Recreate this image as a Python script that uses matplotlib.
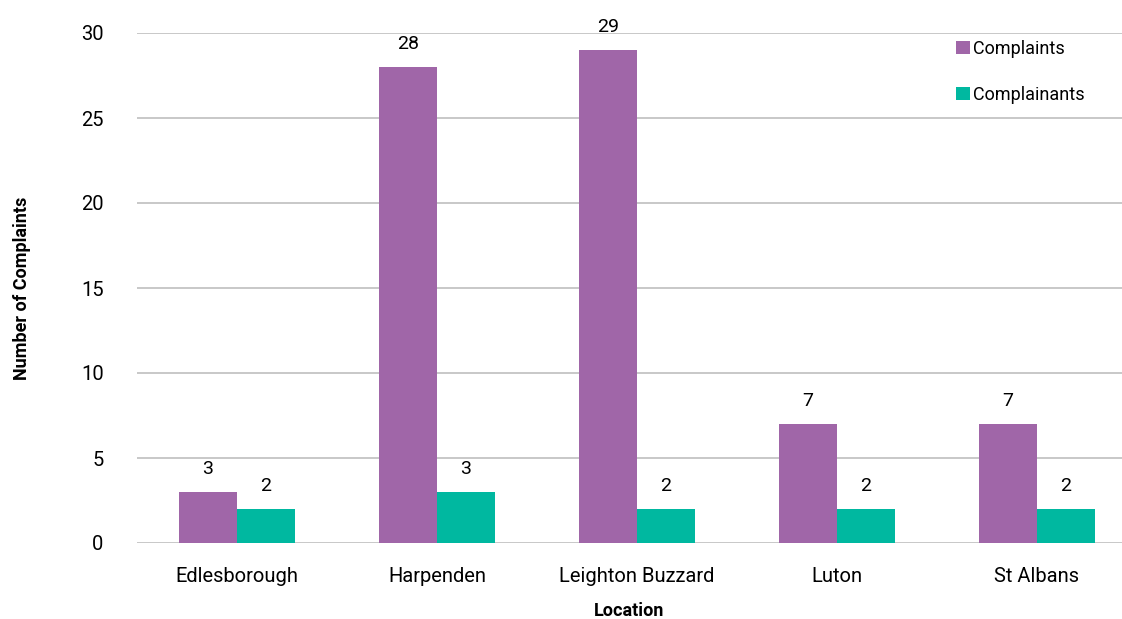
import matplotlib
matplotlib.use("Agg")
import matplotlib.pyplot as plt
import numpy as np

categories = ["Edlesborough", "Harpenden", "Leighton Buzzard", "Luton", "St Albans"]
complaints = [3, 28, 29, 7, 7]
complainants = [2, 3, 2, 2, 2]

plt.rcParams['font.family'] = ['Roboto', 'DejaVu Sans']

fig = plt.figure(figsize=(11.22, 6.19), dpi=100)
ax = fig.add_axes([137/1122, 1-543/619, 1-137/1122, (543-33)/619])

x = np.arange(len(categories))
w = 0.29
purple = "#A066A8"
teal = "#00B8A0"
b1 = ax.bar(x - w/2, complaints, w, color=purple, label="Complaints", zorder=3)
b2 = ax.bar(x + w/2, complainants, w, color=teal, label="Complainants", zorder=3)

for bars in (b1, b2):
    for r in bars:
        ax.annotate(f"{int(r.get_height())}", (r.get_x() + r.get_width()/2, r.get_height()),
                    xytext=(0, 10), textcoords="offset points", ha="center", va="bottom",
                    fontsize=14, color="#000000")

ax.set_ylim(0, 30)
ax.set_xlim(-0.5, 4.425)
ax.set_yticks(range(0, 31, 5))
ax.yaxis.grid(True, color="#BFBFBF", linewidth=1.2, zorder=0)
ax.set_axisbelow(True)
for s in ax.spines.values():
    s.set_visible(False)
ax.tick_params(axis='both', length=0, labelsize=14.5, colors="#000000")
ax.tick_params(axis='y', pad=24)
ax.tick_params(axis='x', pad=17)
ax.set_xticks(x)
ax.set_xticklabels(categories)
ax.set_ylabel("Number of Complaints", fontsize=13, fontweight="bold", labelpad=36)
ax.set_xlabel("Location", fontsize=13, fontweight="bold", labelpad=12)

leg = ax.legend(loc="upper left", bbox_to_anchor=(947/1122, 1-31/619),
                bbox_transform=fig.transFigure, frameon=False,
                fontsize=13, handlelength=0.75, handleheight=0.75, handletextpad=0.2,
                labelspacing=1.55, borderpad=0)

fig.savefig("out.png", dpi=100)
